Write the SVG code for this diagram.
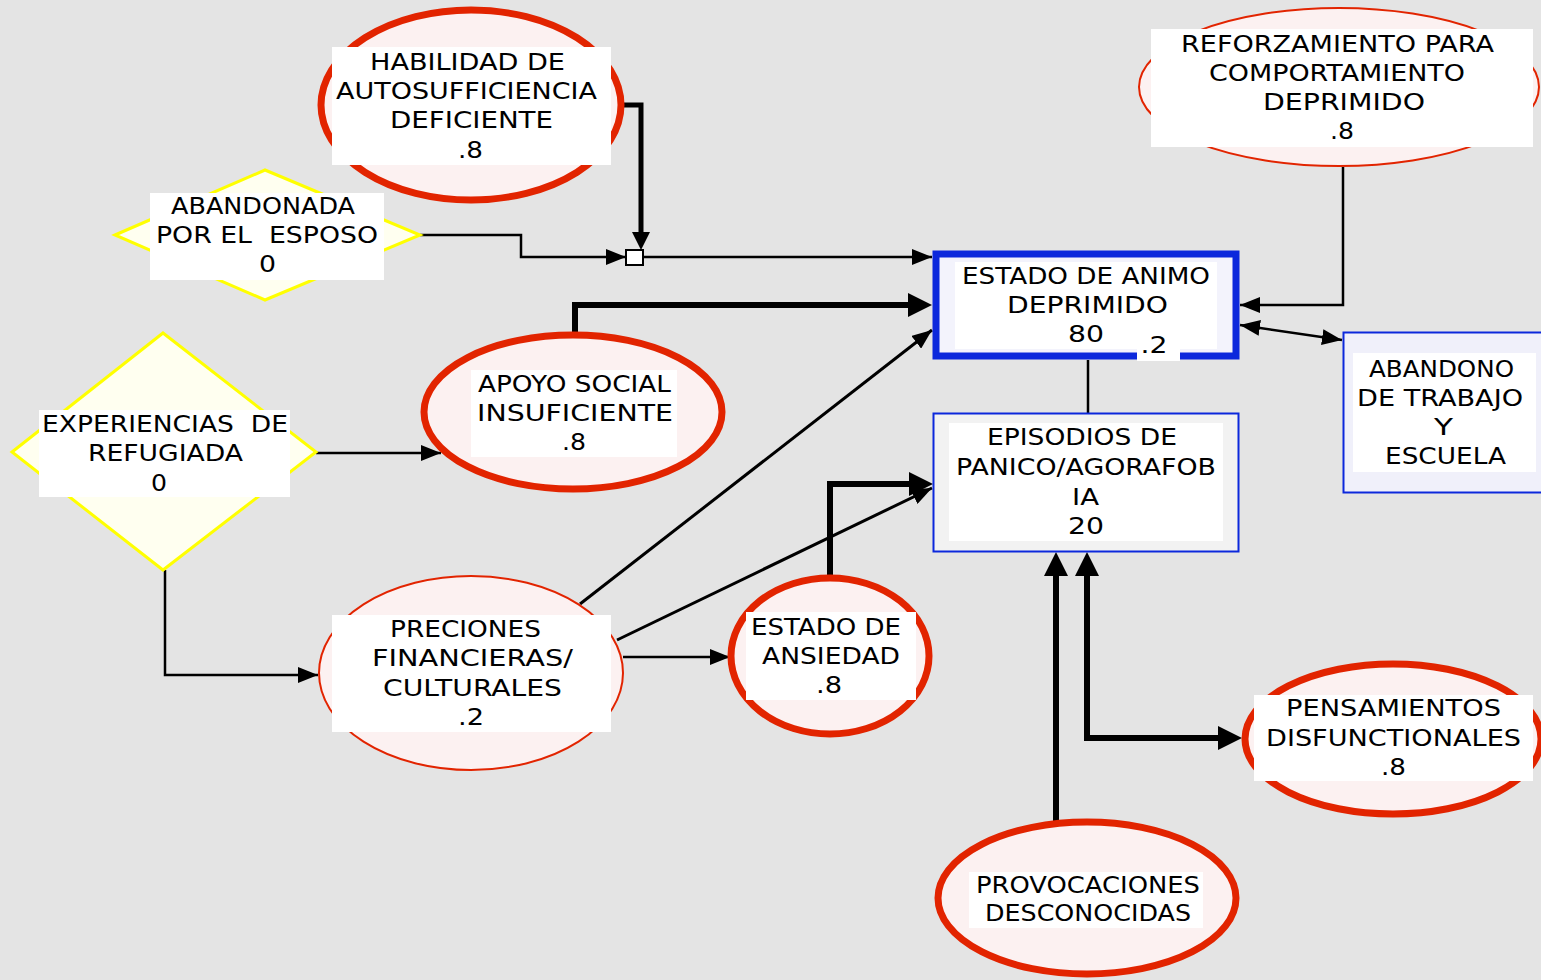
<svg xmlns="http://www.w3.org/2000/svg" width="1541" height="980" viewBox="0 0 1541 980">
<style>
.bg{fill:#e4e4e4}
.ell{fill:#fcf1f1;stroke:#e22400}
.thick{stroke-width:7}
.thin{stroke-width:2}
.dia{fill:#fffff0;stroke:#ffff00;stroke-width:3}
.lbl{fill:#ffffff}
text{font-family:"DejaVu Sans","Liberation Sans",sans-serif;font-size:23px;fill:#000;text-anchor:middle}
.c{fill:none;stroke:#000;stroke-width:2.5}
.ct{fill:none;stroke:#000;stroke-width:6}
</style>
<defs>
<marker id="at" markerUnits="userSpaceOnUse" markerWidth="20" markerHeight="16" refX="20" refY="8" orient="auto-start-reverse"><path d="M0,0 L20,8 L0,16 z" fill="#000"/></marker>
<marker id="ak" markerUnits="userSpaceOnUse" markerWidth="24" markerHeight="24" refX="14" refY="12" orient="auto-start-reverse"><path d="M0,0 L24,12 L0,24 z" fill="#000"/></marker>
<marker id="ak2" markerUnits="userSpaceOnUse" markerWidth="18" markerHeight="18" refX="10" refY="9" orient="auto"><path d="M0,0 L18,9 L0,18 z" fill="#000"/></marker>
</defs>
<rect class="bg" x="0" y="0" width="1541" height="980"/>

<g id="connectors">
<path class="c" d="M420,235 H521 V257 H626" marker-end="url(#at)"/>
<path class="c" d="M624,105 H641 V242" style="stroke-width:5" marker-end="url(#ak2)"/>
<path class="c" d="M643,257 H932" marker-end="url(#at)"/>
<rect x="626" y="250" width="17" height="15" fill="#fff" stroke="#000" stroke-width="2"/>
<path class="ct" d="M575,336 V305 H922" marker-end="url(#ak)"/>
<path class="c" d="M1343,167 V305 H1240" marker-end="url(#at)"/>
<path class="c" d="M1240,325 L1342,340" marker-start="url(#at)" marker-end="url(#at)"/>
<path class="c" d="M1088,360 V413"/>
<path class="c" d="M316,453 H441" marker-end="url(#at)"/>
<path class="c" d="M165,570 V675 H318" marker-end="url(#at)"/>
<path class="c" d="M580,604 L932,330" style="stroke-width:3" marker-end="url(#at)"/>
<path class="c" d="M617,640 L932,488" style="stroke-width:3" marker-end="url(#at)"/>
<path class="c" d="M623,657 H730" marker-end="url(#at)"/>
<path class="ct" d="M830,578 V484 H923" marker-end="url(#ak)"/>
<path class="ct" d="M1056,821 V562" marker-end="url(#ak)"/>
<path class="ct" d="M1087,562 V738 H1232" marker-start="url(#ak)" marker-end="url(#ak)"/>
</g>

<g id="habilidad">
<ellipse class="ell thick" cx="471" cy="105" rx="150" ry="95"/>
<rect class="lbl" x="332" y="47" width="279" height="118"/>
<text x="467.5" y="70" textLength="195" lengthAdjust="spacingAndGlyphs">HABILIDAD DE</text>
<text x="466.5" y="99" textLength="261" lengthAdjust="spacingAndGlyphs">AUTOSUFFICIENCIA</text>
<text x="471.5" y="128" textLength="163" lengthAdjust="spacingAndGlyphs">DEFICIENTE</text>
<text x="470.5" y="158" textLength="25" lengthAdjust="spacingAndGlyphs">.8</text>
</g>

<g id="abandonada">
<polygon class="dia" points="115,235 265,170 420,235 265,300"/>
<rect class="lbl" x="150" y="193" width="234" height="87"/>
<text x="263" y="214" textLength="184" lengthAdjust="spacingAndGlyphs">ABANDONADA</text>
<text x="267" y="243" textLength="222" lengthAdjust="spacingAndGlyphs" xml:space="preserve">POR EL  ESPOSO</text>
<text x="267.5" y="272" textLength="17" lengthAdjust="spacingAndGlyphs">0</text>
</g>

<g id="reforzamiento">
<ellipse class="ell thin" cx="1339" cy="87" rx="200" ry="79"/>
<rect class="lbl" x="1151" y="29" width="382" height="118"/>
<text x="1337.5" y="52" textLength="313" lengthAdjust="spacingAndGlyphs">REFORZAMIENTO PARA</text>
<text x="1337" y="81" textLength="256" lengthAdjust="spacingAndGlyphs">COMPORTAMIENTO</text>
<text x="1344" y="110" textLength="162" lengthAdjust="spacingAndGlyphs">DEPRIMIDO</text>
<text x="1342" y="139" textLength="24" lengthAdjust="spacingAndGlyphs">.8</text>
</g>

<g id="estado-animo">
<rect x="936" y="254" width="300" height="102" fill="#f3f3fc" stroke="#0c28dc" stroke-width="7"/>
<rect class="lbl" x="955" y="262" width="262" height="87"/>
<text x="1086" y="284" textLength="248" lengthAdjust="spacingAndGlyphs">ESTADO DE ANIMO</text>
<text x="1087.5" y="313" textLength="161" lengthAdjust="spacingAndGlyphs">DEPRIMIDO</text>
<text x="1086" y="342" textLength="36" lengthAdjust="spacingAndGlyphs">80</text>
<rect class="lbl" x="1137" y="340" width="43" height="21"/>
<text x="1154" y="353" textLength="27" lengthAdjust="spacingAndGlyphs">.2</text>
</g>

<g id="episodios">
<rect x="933.5" y="413.5" width="305" height="138" fill="#f2f2f2" stroke="#0c28dc" stroke-width="2"/>
<rect class="lbl" x="949" y="423" width="274" height="118"/>
<text x="1082" y="445" textLength="190" lengthAdjust="spacingAndGlyphs">EPISODIOS DE</text>
<text x="1086" y="475" textLength="260" lengthAdjust="spacingAndGlyphs">PANICO/AGORAFOB</text>
<text x="1085.5" y="505" textLength="27" lengthAdjust="spacingAndGlyphs">IA</text>
<text x="1086" y="534" textLength="36" lengthAdjust="spacingAndGlyphs">20</text>
</g>

<g id="abandono">
<rect x="1343.5" y="332.5" width="210" height="160" fill="#f0f0fa" stroke="#0c28dc" stroke-width="2"/>
<rect class="lbl" x="1353" y="353" width="183" height="119"/>
<text x="1441.5" y="377" textLength="145" lengthAdjust="spacingAndGlyphs">ABANDONO</text>
<text x="1440" y="406" textLength="166" lengthAdjust="spacingAndGlyphs">DE TRABAJO</text>
<text x="1443.5" y="435" textLength="19" lengthAdjust="spacingAndGlyphs">Y</text>
<text x="1445.5" y="464" textLength="121" lengthAdjust="spacingAndGlyphs">ESCUELA</text>
</g>

<g id="experiencias">
<polygon class="dia" points="12,452 163,333 316,452 163,570"/>
<rect class="lbl" x="39" y="410" width="251" height="87"/>
<text x="165" y="432" textLength="246" lengthAdjust="spacingAndGlyphs" xml:space="preserve">EXPERIENCIAS  DE</text>
<text x="165.5" y="461" textLength="155" lengthAdjust="spacingAndGlyphs">REFUGIADA</text>
<text x="159" y="491" textLength="16" lengthAdjust="spacingAndGlyphs">0</text>
</g>

<g id="apoyo">
<ellipse class="ell thick" cx="573" cy="412" rx="149" ry="77"/>
<rect class="lbl" x="471" y="370" width="206" height="87"/>
<text x="574.5" y="392" textLength="193" lengthAdjust="spacingAndGlyphs">APOYO SOCIAL</text>
<text x="575" y="421" textLength="196" lengthAdjust="spacingAndGlyphs">INSUFICIENTE</text>
<text x="574" y="450" textLength="24" lengthAdjust="spacingAndGlyphs">.8</text>
</g>

<g id="preciones">
<ellipse class="ell thin" cx="471" cy="673" rx="152" ry="97"/>
<rect class="lbl" x="332" y="615" width="279" height="117"/>
<text x="465.5" y="637" textLength="151" lengthAdjust="spacingAndGlyphs">PRECIONES</text>
<text x="472.5" y="666" textLength="201" lengthAdjust="spacingAndGlyphs">FINANCIERAS/</text>
<text x="472.5" y="696" textLength="179" lengthAdjust="spacingAndGlyphs">CULTURALES</text>
<text x="471" y="725" textLength="26" lengthAdjust="spacingAndGlyphs">.2</text>
</g>

<g id="ansiedad">
<ellipse class="ell thick" cx="830" cy="656" rx="99" ry="78"/>
<rect class="lbl" x="746" y="612" width="170" height="88"/>
<text x="826" y="635" textLength="150" lengthAdjust="spacingAndGlyphs">ESTADO DE</text>
<text x="831" y="664" textLength="138" lengthAdjust="spacingAndGlyphs">ANSIEDAD</text>
<text x="829" y="693" textLength="26" lengthAdjust="spacingAndGlyphs">.8</text>
</g>

<g id="pensamientos">
<ellipse class="ell thick" cx="1393" cy="739" rx="148" ry="75"/>
<rect class="lbl" x="1254" y="695" width="279" height="86"/>
<text x="1393.5" y="716" textLength="215" lengthAdjust="spacingAndGlyphs">PENSAMIENTOS</text>
<text x="1393.5" y="746" textLength="255" lengthAdjust="spacingAndGlyphs">DISFUNCTIONALES</text>
<text x="1393.5" y="775" textLength="25" lengthAdjust="spacingAndGlyphs">.8</text>
</g>

<g id="provocaciones">
<ellipse class="ell thick" cx="1087" cy="898" rx="149" ry="76"/>
<rect class="lbl" x="969" y="872" width="234" height="56"/>
<text x="1088" y="893" textLength="224" lengthAdjust="spacingAndGlyphs">PROVOCACIONES</text>
<text x="1088" y="921" textLength="206" lengthAdjust="spacingAndGlyphs">DESCONOCIDAS</text>
</g>
</svg>
